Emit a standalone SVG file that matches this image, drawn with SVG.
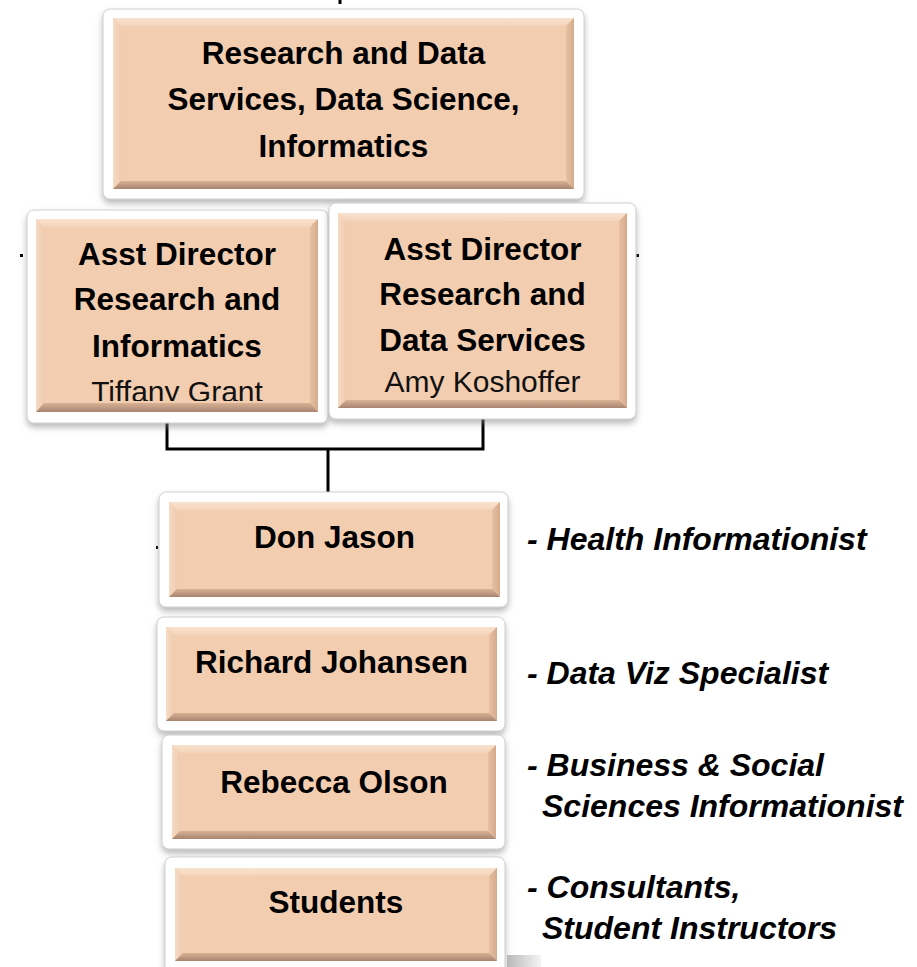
<svg xmlns="http://www.w3.org/2000/svg" width="917" height="967" viewBox="0 0 917 967">
<style>
.card{fill:#ffffff;stroke:#cfcfcf;stroke-width:1;filter:url(#sh)}
.base{fill:#F2CDAF}
.bt{fill:url(#gbt)}
.bl{fill:url(#gbl)}
.br{fill:url(#gbr)}
.bb{fill:url(#gbb)}
.t{font-family:"Liberation Sans",Arial,sans-serif;font-weight:bold;font-size:31.5px;fill:#000;text-anchor:middle}
.n{font-family:"Liberation Sans",Arial,sans-serif;font-weight:normal;font-size:30px;fill:#111;text-anchor:middle}
.lab{font-family:"Liberation Sans",Arial,sans-serif;font-weight:bold;font-style:italic;font-size:32px;fill:#000}
.con{stroke:#000;stroke-width:3;fill:none}
</style>
<defs>
<filter id="sh" x="-10%" y="-10%" width="120%" height="130%">
<feDropShadow dx="0" dy="4" stdDeviation="3" flood-color="#808080" flood-opacity="0.55"/>
</filter>
<linearGradient id="gbt" x1="0" y1="0" x2="0" y2="1"><stop offset="0" stop-color="#F9E2CF"/><stop offset="1" stop-color="#F4D4BA"/></linearGradient>
<linearGradient id="gbl" x1="0" y1="0" x2="1" y2="0"><stop offset="0" stop-color="#F6DBC4"/><stop offset="1" stop-color="#EFCBAE"/></linearGradient>
<linearGradient id="gbr" x1="0" y1="0" x2="1" y2="0"><stop offset="0" stop-color="#E8C1A2"/><stop offset="1" stop-color="#D4AA8B"/></linearGradient>
<linearGradient id="gbb" x1="0" y1="0" x2="0" y2="1"><stop offset="0" stop-color="#D9B294"/><stop offset="1" stop-color="#A88471"/></linearGradient>
<linearGradient id="gstrip" x1="0" y1="0" x2="1" y2="0"><stop offset="0" stop-color="#b8b8b8"/><stop offset="1" stop-color="#f4f4f4"/></linearGradient>
<clipPath id="clipTG"><rect x="36" y="219" width="282" height="182"/></clipPath>
</defs>
<rect x="0" y="0" width="917" height="967" fill="#ffffff"/>

<g id="connectors">
<line class="con" x1="340" y1="0" x2="340" y2="4"/>
<polyline class="con" points="167,419 167,449 483,449 483,415"/>
<line class="con" x1="328" y1="449" x2="328" y2="492"/>
<rect x="20" y="254" width="3" height="3" fill="#000"/>
<rect x="636" y="254" width="3" height="3" fill="#000"/>
<rect x="156" y="546" width="2" height="3" fill="#000"/>
</g>

<g id="node-top">
<rect class="card" x="103" y="9" width="481" height="190" rx="7"/>
<rect class="base" x="113" y="18" width="461" height="171"/>
<polygon class="bt" points="113,18 574,18 566,26 121,26"/>
<polygon class="bl" points="113,18 121,26 121,181 113,189"/>
<polygon class="br" points="574,18 574,189 566,181 566,26"/>
<polygon class="bb" points="113,189 121,181 566,181 574,189"/>
<text class="t" font-size="32" x="343.5" y="64">Research and Data</text>
<text class="t" font-size="32" x="343.5" y="110">Services, Data Science,</text>
<text class="t" font-size="32" x="343.5" y="157">Informatics</text>
</g>

<g id="node-tiffany">
<rect class="card" x="27" y="210" width="301" height="213" rx="7"/>
<rect class="base" x="36" y="219" width="282" height="193"/>
<polygon class="bt" points="36,219 318,219 310,227 44,227"/>
<polygon class="bl" points="36,219 44,227 44,404 36,412"/>
<polygon class="br" points="318,219 318,412 310,404 310,227"/>
<text class="t" x="177" y="265">Asst Director</text>
<text class="t" x="177" y="310">Research and</text>
<text class="t" x="177" y="357">Informatics</text>
<text class="n" x="177" y="402" clip-path="url(#clipTG)">Tiffany Grant</text>
<polygon class="bb" points="36,412 44,403 310,403 318,412"/>
</g>

<g id="node-amy">
<rect class="card" x="329" y="203" width="307" height="216" rx="7"/>
<rect class="base" x="338" y="213" width="289" height="195"/>
<polygon class="bt" points="338,213 627,213 619,221 346,221"/>
<polygon class="bl" points="338,213 346,221 346,400 338,408"/>
<polygon class="br" points="627,213 627,408 619,400 619,221"/>
<polygon class="bb" points="338,408 346,400 619,400 627,408"/>
<text class="t" x="482.5" y="260">Asst Director</text>
<text class="t" x="482.5" y="305">Research and</text>
<text class="t" x="482.5" y="351">Data Services</text>
<text class="n" x="482.5" y="392">Amy Koshoffer</text>
</g>

<g id="node-don">
<rect class="card" x="159" y="492" width="349" height="115" rx="7"/>
<rect class="base" x="169" y="502" width="331" height="95"/>
<polygon class="bt" points="169,502 500,502 492,510 177,510"/>
<polygon class="bl" points="169,502 177,510 177,589 169,597"/>
<polygon class="br" points="500,502 500,597 492,589 492,510"/>
<polygon class="bb" points="169,597 177,589 492,589 500,597"/>
<text class="t" x="334.5" y="548">Don Jason</text>
</g>

<g id="node-richard">
<rect class="card" x="157" y="617" width="348" height="114" rx="7"/>
<rect class="base" x="166" y="627" width="331" height="94"/>
<polygon class="bt" points="166,627 497,627 489,635 174,635"/>
<polygon class="bl" points="166,627 174,635 174,713 166,721"/>
<polygon class="br" points="497,627 497,721 489,713 489,635"/>
<polygon class="bb" points="166,721 174,713 489,713 497,721"/>
<text class="t" x="331.5" y="673">Richard Johansen</text>
</g>

<g id="node-rebecca">
<rect class="card" x="162" y="735" width="343" height="114" rx="7"/>
<rect class="base" x="172" y="745" width="324" height="94"/>
<polygon class="bt" points="172,745 496,745 488,753 180,753"/>
<polygon class="bl" points="172,745 180,753 180,831 172,839"/>
<polygon class="br" points="496,745 496,839 488,831 488,753"/>
<polygon class="bb" points="172,839 180,831 488,831 496,839"/>
<text class="t" x="334" y="793">Rebecca Olson</text>
</g>

<g id="node-students">
<rect class="card" x="165" y="857" width="340" height="118" rx="7"/>
<rect class="base" x="175" y="868" width="322" height="93"/>
<polygon class="bt" points="175,868 497,868 489,876 183,876"/>
<polygon class="bl" points="175,868 183,876 183,953 175,961"/>
<polygon class="br" points="497,868 497,961 489,953 489,876"/>
<polygon class="bb" points="175,961 183,953 489,953 497,961"/>
<text class="t" x="336" y="913">Students</text>
</g>

<rect x="507" y="955" width="34" height="12" fill="url(#gstrip)"/>

<g id="labels">
<text class="lab" x="527" y="550">- Health Informationist</text>
<text class="lab" x="527" y="684">- Data Viz Specialist</text>
<text class="lab" x="527" y="776">- Business &amp; Social</text>
<text class="lab" x="542" y="817">Sciences Informationist</text>
<text class="lab" x="527" y="898">- Consultants,</text>
<text class="lab" x="542" y="939">Student Instructors</text>
</g>
</svg>
